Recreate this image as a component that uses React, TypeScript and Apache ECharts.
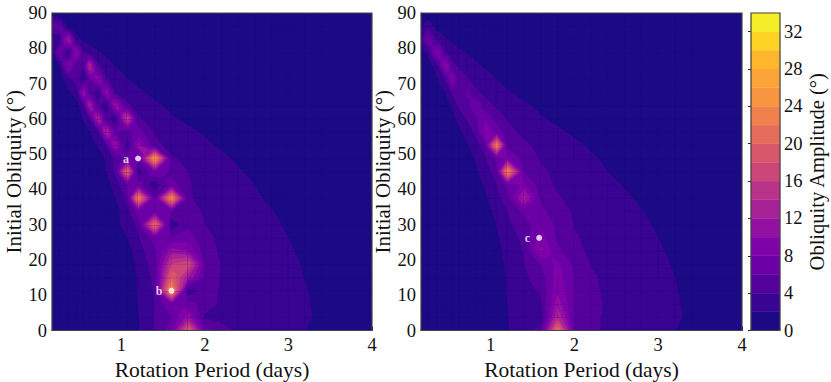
import React, { useEffect, useRef } from "react";
import * as echarts from "echarts";

const FONT = "Liberation Serif";
const PERIODS = [0.17, 0.25, 0.36, 0.47, 0.54, 0.62, 0.72, 0.82, 0.93, 1.07, 1.2, 1.4, 1.6, 1.8, 2, 2.2, 2.4, 2.6, 2.8, 3, 3.2, 3.4, 4];
const OBLIQUITIES = [0, 3.75, 7.5, 11.25, 15, 18.75, 22.5, 26.25, 30, 33.75, 37.5, 41.25, 45, 48.75, 52.5, 56.25, 60, 63.75, 67.5, 71.25, 75, 78.75, 82.5, 86.25, 90];
const LEVELS = [0, 2, 4, 6, 8, 10, 12, 14, 16, 18, 20, 22, 24, 26, 28, 30, 32, 34];
const BAND_COLORS = ["#1c0a85", "#3a0492", "#55029d", "#6a00a6", "#7e03a8", "#9210a2", "#a72197", "#b93289", "#cc4778", "#d8576b", "#e66c5c", "#f0804e", "#f89540", "#fca338", "#feb72d", "#fcd225", "#f3ee27"];
const X_TICKS = [1, 2, 3, 4];
const BAR_TICKS = [0, 4, 8, 12, 16, 20, 24, 28, 32];

const LEFT_ROWS = [
  [.5,.5,.5,.5,.5,.5,.5,.5,.5,.6,1.9,4.1,7,20,7,4.6,3.7,3.3,3.1,2.8,2,.9,.5],
  [.5,.5,.5,.5,.5,.5,.5,.5,.5,.6,1.9,4.1,6,11,3.6,3.6,3.4,3.3,3.2,3,2.6,1.2,.5],
  [.5,.5,.5,.5,.5,.5,.5,.5,.5,.6,2,4,8,7,5,3.7,3.5,3.3,3.2,2.9,2.4,1.1,.5],
  [.5,.5,.5,.5,.5,.5,.5,.5,.5,.5,2.1,4.2,26,2.2,5,3.7,3.4,3.2,3,2.8,2.2,1,.5],
  [.5,.5,.5,.5,.5,.5,.5,.5,.5,.5,2.2,4.5,20,12,5.5,3.8,3.5,3.3,3.1,2.7,1.9,.9,.5],
  [.5,.5,.5,.5,.5,.5,.5,.5,.5,.7,2.5,5,16,18,6,3.8,3.5,3.3,3,2.5,1.8,.9,.5],
  [.5,.5,.5,.5,.5,.5,.5,.5,.5,1.1,3,5.5,11,10,4.8,3.7,3.4,3.2,2.9,2.3,1.5,.8,.5],
  [.5,.5,.5,.5,.5,.5,.5,.5,.5,1.9,3.6,7,6,7,4.5,3.6,3.3,3,2.6,2,1.2,.7,.5],
  [.5,.5,.5,.5,.5,.5,.5,.5,1.5,2.8,4.5,22,2.4,5.5,4,3.4,3.1,2.8,2.4,1.7,1,.5,.5],
  [.5,.5,.5,.5,.5,.5,.5,.5,1.3,3,7,7,6,5,3.7,3.2,2.9,2.6,2.1,1.4,.8,.5,.5],
  [.5,.5,.5,.5,.5,.5,.5,.8,2,4.4,24,6,25,4.2,3.4,3,2.6,2.2,1.7,1,.5,.5,.5],
  [.5,.5,.5,.5,.5,.5,.5,1.2,2.8,6,7,2.5,7,4.1,3.6,3.1,2.6,2,1.3,.8,.5,.5,.5],
  [.5,.5,.5,.5,.5,.5,.5,2,4.5,22,3,8,5.5,4,3.4,2.9,2.2,1.5,1,.5,.5,.5,.5],
  [.5,.5,.5,.5,.5,.5,1,2.2,4.5,7,6,26,4.2,3.6,3.2,2.4,1.7,1,.5,.5,.5,.5,.5],
  [.5,.5,.5,.5,.5,1,2.2,4,12,2.2,11,4.5,3.4,3,2.3,1.7,1,.5,.5,.5,.5,.5,.5],
  [.5,.5,.5,.5,1,1.9,3,14,6,5,7,3.8,3,2.4,1.8,1,.5,.5,.5,.5,.5,.5,.5],
  [.5,.5,.5,.8,2,4,14,5,2.2,17,4.2,3.1,2.2,1.6,1,.5,.5,.5,.5,.5,.5,.5,.5],
  [.5,.5,.5,1.3,3,13,5,2.2,12,4.3,3.4,2.3,1.6,1,.5,.5,.5,.5,.5,.5,.5,.5,.5],
  [.5,.5,1.5,3,12,5,2.2,11,3.8,3.2,2.3,1.6,1,.5,.5,.5,.5,.5,.5,.5,.5,.5,.5],
  [.5,.5,3,5,2.2,6,11,4.2,3,2.1,1.5,.9,.5,.5,.5,.5,.5,.5,.5,.5,.5,.5,.5],
  [.5,1.5,10,4.5,4,15,4.5,2.8,1.9,1.2,.8,.5,.5,.5,.5,.5,.5,.5,.5,.5,.5,.5,.5],
  [1.5,8,2.2,11,4.5,3,2.2,1.6,1,.5,.5,.5,.5,.5,.5,.5,.5,.5,.5,.5,.5,.5,.5],
  [2.2,2.2,13,2.5,1.6,1.2,.8,.5,.5,.5,.5,.5,.5,.5,.5,.5,.5,.5,.5,.5,.5,.5,.5],
  [6,7,1.8,1,.5,.5,.5,.5,.5,.5,.5,.5,.5,.5,.5,.5,.5,.5,.5,.5,.5,.5,.5],
  [.5,.5,.5,.5,.5,.5,.5,.5,.5,.5,.5,.5,.5,.5,.5,.5,.5,.5,.5,.5,.5,.5,.5],
];

const RIGHT_ROWS = [
  [.5,.5,.5,.5,.5,.5,.5,.5,.5,.7,1.9,3,5,22,6,4.4,3.6,3.3,3.1,2.8,2,.9,.5],
  [.5,.5,.5,.5,.5,.5,.5,.5,.5,.7,1.9,3,2.4,14,5.5,4.4,3.7,3.4,3.2,3,2.6,1.3,.5],
  [.5,.5,.5,.5,.5,.5,.5,.5,.5,.6,2,3.3,3.6,11,5.8,4.4,3.8,3.5,3.3,3,2.4,1.2,.5],
  [.5,.5,.5,.5,.5,.5,.5,.5,.5,.6,2.1,3.5,4.2,9.5,6,4.3,3.7,3.4,3.2,2.9,2.2,1.1,.5],
  [.5,.5,.5,.5,.5,.5,.5,.5,.5,.6,2.2,3.7,4.8,9,5.8,4.2,3.7,3.4,3.2,2.8,2,1,.5],
  [.5,.5,.5,.5,.5,.5,.5,.5,.5,.8,2.5,3.9,6,8.5,5.6,3.9,3.6,3.3,3,2.5,1.8,.9,.5],
  [.5,.5,.5,.5,.5,.5,.5,.5,.5,1.1,2.9,4.1,10.5,6.5,4.4,3.7,3.4,3.2,2.9,2.3,1.5,.8,.5],
  [.5,.5,.5,.5,.5,.5,.5,.5,.5,1.5,3.3,4.3,9,5.5,4.2,3.6,3.3,3,2.6,2,1.2,.7,.5],
  [.5,.5,.5,.5,.5,.5,.5,.5,.6,2,3.6,5,7.5,5.5,3.9,3.4,3.1,2.8,2.4,1.7,1,.5,.5],
  [.5,.5,.5,.5,.5,.5,.5,.5,1,2.5,4,6.5,6.5,5,3.7,3.2,2.9,2.6,2.1,1.4,.8,.5,.5],
  [.5,.5,.5,.5,.5,.5,.5,.6,1.6,3.2,5,13,5.5,4.2,3.4,3,2.7,2.3,1.7,1,.5,.5,.5],
  [.5,.5,.5,.5,.5,.5,.5,1,2.2,3.9,6.5,8.5,4.8,3.7,3.3,2.9,2.4,1.9,1.2,.7,.5,.5,.5],
  [.5,.5,.5,.5,.5,.5,.6,1.6,2.9,4.8,25,6,4.4,3.5,3.1,2.6,2,1.4,.8,.5,.5,.5,.5],
  [.5,.5,.5,.5,.5,.5,1,2.2,3.6,6.5,8.5,5.2,3.8,3.2,2.8,2.3,1.6,1,.5,.5,.5,.5,.5],
  [.5,.5,.5,.5,.5,.8,1.8,3,5,24,5.5,4.4,3.4,2.9,2.4,1.7,1,.5,.5,.5,.5,.5,.5],
  [.5,.5,.5,.5,.6,1.5,2.7,4.4,9,7.5,4.6,3.5,2.9,2.3,1.7,1,.5,.5,.5,.5,.5,.5,.5],
  [.5,.5,.5,.6,1.3,2.5,4.2,5.5,8,5,3.9,3,2.2,1.6,1,.5,.5,.5,.5,.5,.5,.5,.5],
  [.5,.5,.5,1,2.2,4.2,5,8,4.8,3.7,3.1,2.3,1.6,.9,.5,.5,.5,.5,.5,.5,.5,.5,.5],
  [.5,.5,.7,2.2,4.2,4.8,6.5,4.4,3.5,2.7,2.2,1.5,.8,.5,.5,.5,.5,.5,.5,.5,.5,.5,.5],
  [.5,.5,1.7,4.4,10,4.8,4.2,3.3,2.8,2,1.3,.7,.5,.5,.5,.5,.5,.5,.5,.5,.5,.5,.5],
  [.5,.8,3,11,4.6,3.8,3,2.4,1.8,1,.5,.5,.5,.5,.5,.5,.5,.5,.5,.5,.5,.5,.5],
  [1,2.5,10,4.2,3,2.4,1.9,1.3,.8,.5,.5,.5,.5,.5,.5,.5,.5,.5,.5,.5,.5,.5,.5],
  [3,8,3.5,2.2,1.6,1.1,.7,.5,.5,.5,.5,.5,.5,.5,.5,.5,.5,.5,.5,.5,.5,.5,.5],
  [2,3.5,1.2,.7,.5,.5,.5,.5,.5,.5,.5,.5,.5,.5,.5,.5,.5,.5,.5,.5,.5,.5,.5],
  [.5,.5,.5,.5,.5,.5,.5,.5,.5,.5,.5,.5,.5,.5,.5,.5,.5,.5,.5,.5,.5,.5,.5],
];

const LEFT_MARKS = [
  { name: "a", value: [1.2, 48.75] },
  { name: "b", value: [1.6, 11.25] },
];
const RIGHT_MARKS = [{ name: "c", value: [1.58, 26.25] }];

type V3 = [number, number, number];

function clipAbove(poly: V3[], level: number): V3[] {
  const out: V3[] = [];
  for (let i = 0; i < poly.length; i++) {
    const a = poly[i];
    const b = poly[(i + 1) % poly.length];
    const ina = a[2] >= level;
    const inb = b[2] >= level;
    if (ina) out.push(a);
    if (ina !== inb) {
      const t = (level - a[2]) / (b[2] - a[2]);
      out.push([a[0] + t * (b[0] - a[0]), a[1] + t * (b[1] - a[1]), level]);
    }
  }
  return out;
}

function isSaddle(v: number[], level: number) {
  const s = v.map((x) => x >= level);
  return s[0] === s[2] && s[1] === s[3] && s[0] !== s[1];
}

function contourSeries(rows: number[][], gridIndex: number) {
  const cells: number[][] = [];
  for (let j = 0; j < OBLIQUITIES.length - 1; j++) {
    for (let i = 0; i < PERIODS.length - 1; i++) cells.push([i, j]);
  }
  return {
    type: "custom",
    xAxisIndex: gridIndex,
    yAxisIndex: gridIndex,
    clip: true,
    silent: true,
    data: cells,
    encode: { x: [], y: [] },
    renderItem: (_p: any, api: any) => {
      const i = api.value(0);
      const j = api.value(1);
      const c = [
        [PERIODS[i], OBLIQUITIES[j], rows[j][i]],
        [PERIODS[i + 1], OBLIQUITIES[j], rows[j][i + 1]],
        [PERIODS[i + 1], OBLIQUITIES[j + 1], rows[j + 1][i + 1]],
        [PERIODS[i], OBLIQUITIES[j + 1], rows[j + 1][i]],
      ].map((p) => {
        const q = api.coord([p[0], p[1]]);
        return [q[0], q[1], p[2]] as V3;
      });
      const children: any[] = [];
      const add = (pts: V3[], k: number) => {
        children.push({
          type: "polygon",
          shape: { points: pts.map((p) => [p[0], p[1]]) },
          style: { fill: BAND_COLORS[k], stroke: BAND_COLORS[k], lineWidth: 0.5 },
        });
      };
      const vals = c.map((p) => p[2]);
      const mn = Math.min(...vals);
      const mx = Math.max(...vals);
      // Painter's order: each level paints the region at or above it.
      for (let k = 0; k < BAND_COLORS.length; k++) {
        const lo = LEVELS[k];
        const hi = LEVELS[k + 1];
        if (mx < lo || mn >= hi) continue;
        if (mn >= lo) {
          add(c, k);
          continue;
        }
        if (!isSaddle(vals, lo)) {
          const q = clipAbove(c, lo);
          if (q.length >= 3) add(q, k);
          continue;
        }
        const mid: V3 = [
          (c[0][0] + c[2][0]) / 2,
          (c[0][1] + c[2][1]) / 2,
          (vals[0] + vals[1] + vals[2] + vals[3]) / 4,
        ];
        for (let e = 0; e < 4; e++) {
          const tri = clipAbove([c[e], c[(e + 1) % 4], mid], lo);
          if (tri.length >= 3) add(tri, k);
        }
      }
      return { type: "group", children };
    },
  };
}

function marksSeries(data: any[], gridIndex: number) {
  return {
    type: "scatter",
    xAxisIndex: gridIndex,
    yAxisIndex: gridIndex,
    data,
    symbolSize: 6,
    z: 5,
    itemStyle: { color: "#ffffff" },
    label: {
      show: true,
      position: "left",
      distance: 6,
      formatter: "{b}",
      color: "#ffffff",
      fontFamily: FONT,
      fontWeight: "bold",
      fontSize: 12,
    },
  };
}

const axisText = { fontFamily: FONT, fontSize: 18.5, color: "#111111" };
const axisLine = { show: true, onZero: false, lineStyle: { color: "#444444", width: 1.2 } };

function panelX(gridIndex: number) {
  return {
    type: "value",
    gridIndex,
    min: 0.17,
    max: 4,
    position: "bottom",
    name: "Rotation Period (days)",
    nameLocation: "middle",
    nameGap: 24,
    nameTextStyle: { fontFamily: FONT, fontSize: 21.5, color: "#111111" },
    axisLine,
    splitLine: { show: false },
    axisTick: { show: true, inside: true, length: 4, customValues: X_TICKS, lineStyle: { color: "#222222" } },
    axisLabel: { ...axisText, margin: 5, customValues: X_TICKS, hideOverlap: false, showMinLabel: true, showMaxLabel: true },
  };
}

function panelY(gridIndex: number) {
  return {
    type: "value",
    gridIndex,
    min: 0,
    max: 90,
    interval: 10,
    position: "left",
    name: "Initial Obliquity (°)",
    nameLocation: "middle",
    nameGap: 28,
    nameTextStyle: { fontFamily: FONT, fontSize: 21, color: "#111111" },
    axisLine,
    splitLine: { show: false },
    axisTick: { show: true, inside: true, length: 4, lineStyle: { color: "#222222" } },
    axisLabel: { ...axisText, margin: 5 },
  };
}

export default function App() {
  const ref = useRef<HTMLDivElement>(null);
  useEffect(() => {
    document.body.style.margin = "0";
    const chart = echarts.init(ref.current!, undefined, { renderer: "svg" });
    const frame = (left: number, top: number, width: number, height: number) => ({
      type: "rect",
      shape: { x: left, y: top, width, height },
      style: { fill: "none", stroke: "#444444", lineWidth: 1.2 },
      z: 100,
      silent: true,
    });
    chart.setOption({
      animation: false,
      backgroundColor: "#ffffff",
      grid: [
        { left: 52, top: 13, width: 320, height: 317.5, backgroundColor: BAND_COLORS[0], show: true, borderWidth: 0, outerBoundsMode: "none" },
        { left: 421, top: 13, width: 321, height: 317.5, backgroundColor: BAND_COLORS[0], show: true, borderWidth: 0, outerBoundsMode: "none" },
        { left: 751, top: 13, width: 29, height: 317.5, outerBoundsMode: "none" },
      ],
      xAxis: [
        panelX(0),
        panelX(1),
        { type: "value", gridIndex: 2, min: 0, max: 1, axisLine: { show: false }, axisTick: { show: false }, axisLabel: { show: false }, splitLine: { show: false } },
      ],
      yAxis: [
        panelY(0),
        panelY(1),
        {
          type: "value",
          gridIndex: 2,
          min: 0,
          max: 34,
          position: "right",
          name: "Obliquity Amplitude (°)",
          nameLocation: "middle",
          nameRotate: 90,
          nameGap: 23,
          nameTextStyle: { fontFamily: FONT, fontSize: 20.5, color: "#111111" },
          axisLine: { show: false },
          splitLine: { show: false },
          axisTick: { show: true, inside: true, length: 3, customValues: BAR_TICKS, lineStyle: { color: "#222222" } },
          axisLabel: { ...axisText, margin: 4, customValues: BAR_TICKS },
        },
      ],
      series: [
        contourSeries(LEFT_ROWS, 0),
        contourSeries(RIGHT_ROWS, 1),
        marksSeries(LEFT_MARKS, 0),
        marksSeries(RIGHT_MARKS, 1),
        {
          type: "custom",
          xAxisIndex: 2,
          yAxisIndex: 2,
          silent: true,
          data: BAND_COLORS.map((_, k) => [0, LEVELS[k], LEVELS[k + 1]]),
          encode: { x: 0, y: [1, 2] },
          renderItem: (p: any, api: any) => {
            const a = api.coord([0, api.value(1)]);
            const b = api.coord([1, api.value(2)]);
            return {
              type: "rect",
              shape: { x: a[0], y: b[1], width: b[0] - a[0], height: a[1] - b[1] },
              style: { fill: BAND_COLORS[p.dataIndex], stroke: BAND_COLORS[p.dataIndex], lineWidth: 0.4 },
            };
          },
        },
      ],
      graphic: [frame(52, 13, 320, 317.5), frame(421, 13, 321, 317.5), frame(751, 13, 29, 317.5)],
    });
    return () => chart.dispose();
  }, []);
  return <div ref={ref} style={{ position: "absolute", left: 0, top: 0, width: 831, height: 382 }} />;
}
